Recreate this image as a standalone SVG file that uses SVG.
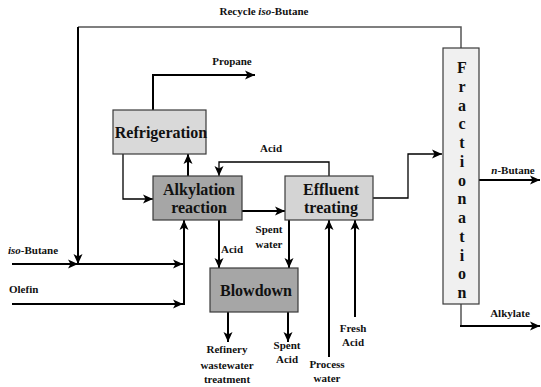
<svg xmlns="http://www.w3.org/2000/svg" width="541" height="387" viewBox="0 0 541 387">
<style>
text{font-family:"Liberation Serif","Times New Roman",serif;font-weight:bold;fill:#111}
.lbl{font-size:11px}
.big{font-size:16px}
.box{stroke:#3a3a3a;stroke-width:1.2}
.c{fill:none;stroke:#000;stroke-width:2}
.t{fill:none;stroke:#000;stroke-width:1.3}
.g{fill:none;stroke:#555;stroke-width:1.5}
</style>
<defs>
<marker id="a" markerUnits="userSpaceOnUse" markerWidth="11" markerHeight="10" refX="10" refY="5" orient="auto">
<path d="M0,0.5 L10,5 L0,9.5 L2.5,5 z" fill="#000"/>
</marker>
</defs>
<g id="connectors">
<polyline class="g" points="78,27 461,27 461,48"/>
<polyline class="c" points="78,27 78,264" marker-end="url(#a)"/>
<line class="c" x1="12" y1="264" x2="78" y2="264" marker-end="url(#a)"/>
<line class="c" x1="78" y1="264" x2="183" y2="264" marker-end="url(#a)"/>
<line class="c" x1="12" y1="304" x2="183" y2="304" marker-end="url(#a)"/>
<polyline class="c" points="184,305 184,220" marker-end="url(#a)"/>
<polyline class="c" points="153,110 153,75 255,75" marker-end="url(#a)"/>
<polyline class="t" points="123,154 123,199 153,199" marker-end="url(#a)"/>
<line class="c" x1="188" y1="176" x2="188" y2="154" marker-end="url(#a)"/>
<polyline class="t" points="329,176 329,162 219,162 219,176" marker-end="url(#a)"/>
<line class="c" x1="242" y1="211" x2="285" y2="211" marker-end="url(#a)"/>
<polyline class="t" points="373,198 408,198 408,154 442,154" marker-end="url(#a)"/>
<line class="c" x1="219" y1="220" x2="219" y2="268" marker-end="url(#a)"/>
<line class="c" x1="289" y1="220" x2="289" y2="268" marker-end="url(#a)"/>
<line class="c" x1="329" y1="357" x2="329" y2="220" marker-end="url(#a)"/>
<line class="c" x1="355" y1="317" x2="355" y2="220" marker-end="url(#a)"/>
<line class="c" x1="228" y1="312" x2="228" y2="342" marker-end="url(#a)"/>
<line class="c" x1="288" y1="312" x2="288" y2="342" marker-end="url(#a)"/>
<line class="c" x1="479" y1="180" x2="540" y2="180" marker-end="url(#a)"/>
<line class="g" x1="461" y1="304" x2="461" y2="326"/>
<line class="c" x1="460" y1="326" x2="540" y2="326" marker-end="url(#a)"/>
</g>
<g id="labels">
<text class="lbl" x="264" y="15" text-anchor="middle">Recycle <tspan font-style="italic">iso</tspan>-Butane</text>
<text class="lbl" x="232" y="65" text-anchor="middle">Propane</text>
<text class="lbl" x="271" y="152" text-anchor="middle">Acid</text>
<text class="lbl" x="8" y="254"><tspan font-style="italic">iso</tspan>-Butane</text>
<text class="lbl" x="9" y="293">Olefin</text>
<text class="lbl" x="232" y="253" text-anchor="middle">Acid</text>
<text class="lbl" x="269" y="233" text-anchor="middle">Spent</text>
<text class="lbl" x="269" y="248" text-anchor="middle">water</text>
<text class="lbl" x="227" y="353" text-anchor="middle">Refinery</text>
<text class="lbl" x="227" y="369" text-anchor="middle">wastewater</text>
<text class="lbl" x="227" y="383" text-anchor="middle">treatment</text>
<text class="lbl" x="287" y="349" text-anchor="middle">Spent</text>
<text class="lbl" x="287" y="363" text-anchor="middle">Acid</text>
<text class="lbl" x="327" y="368" text-anchor="middle">Process</text>
<text class="lbl" x="327" y="382" text-anchor="middle">water</text>
<text class="lbl" x="353" y="332" text-anchor="middle">Fresh</text>
<text class="lbl" x="353" y="346" text-anchor="middle">Acid</text>
<text class="lbl" x="513" y="174" text-anchor="middle"><tspan font-style="italic">n</tspan>-Butane</text>
<text class="lbl" x="510" y="317" text-anchor="middle">Alkylate</text>
</g>
<g id="refrigeration">
<rect class="box" x="113" y="110" width="93" height="44" fill="#d9d9d9"/>
<text class="big" x="161" y="138" text-anchor="middle">Refrigeration</text>
</g>
<g id="alkylation">
<rect class="box" x="153" y="176" width="89" height="44" fill="#a6a6a6"/>
<text class="big" x="199" y="195" text-anchor="middle">Alkylation</text>
<text class="big" x="199" y="213" text-anchor="middle">reaction</text>
</g>
<g id="effluent">
<rect class="box" x="285" y="176" width="88" height="44" fill="#d4d4d4"/>
<text class="big" x="331" y="195" text-anchor="middle">Effluent</text>
<text class="big" x="331" y="213" text-anchor="middle">treating</text>
</g>
<g id="blowdown">
<rect class="box" x="210" y="268" width="88" height="44" fill="#a6a6a6"/>
<text class="big" x="256" y="296" text-anchor="middle">Blowdown</text>
</g>
<g id="fractionation">
<rect class="box" x="443" y="48" width="36" height="256" fill="#f0f0f0"/>
<text class="big" text-anchor="middle">
<tspan x="462" y="73">F</tspan><tspan x="462" y="91.8">r</tspan><tspan x="462" y="110.5">a</tspan><tspan x="462" y="129.3">c</tspan><tspan x="462" y="148">t</tspan><tspan x="462" y="166.8">i</tspan><tspan x="462" y="185.5">o</tspan><tspan x="462" y="204.3">n</tspan><tspan x="462" y="223">a</tspan><tspan x="462" y="241.8">t</tspan><tspan x="462" y="260.5">i</tspan><tspan x="462" y="279.3">o</tspan><tspan x="462" y="298">n</tspan>
</text>
</g>
</svg>
